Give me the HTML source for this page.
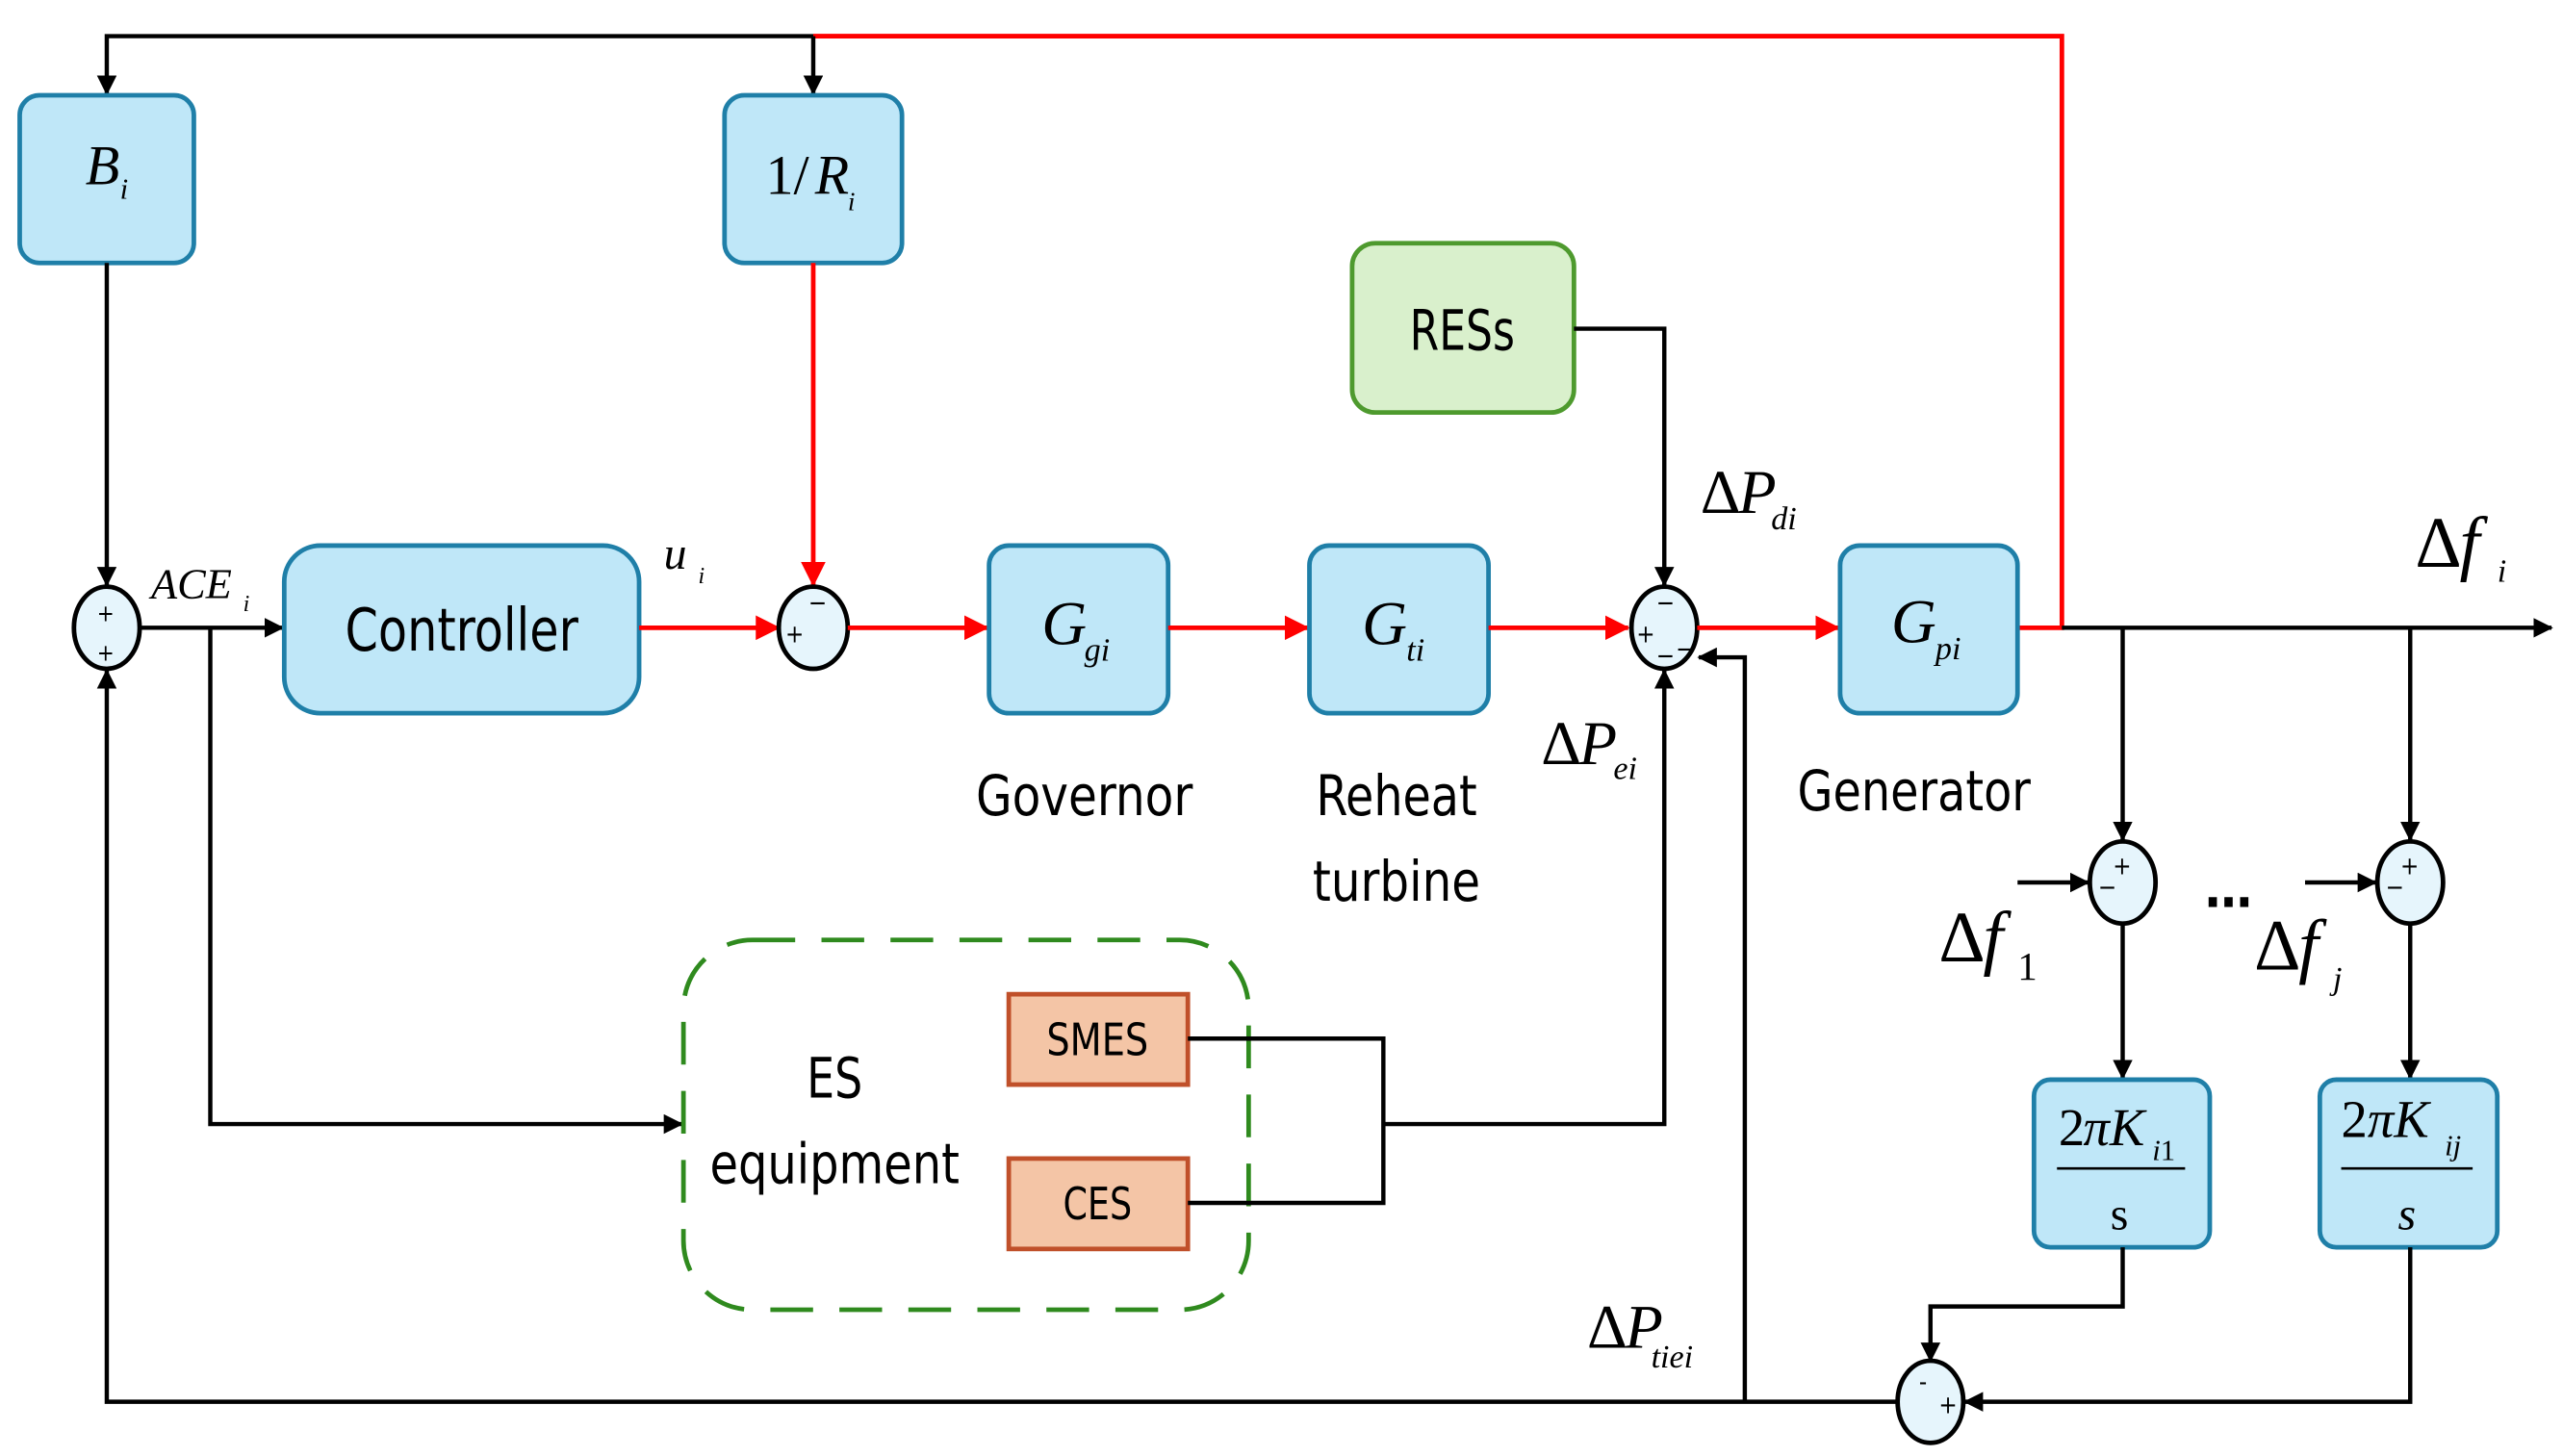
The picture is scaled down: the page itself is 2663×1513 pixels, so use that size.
<!DOCTYPE html>
<html><head><meta charset="utf-8"><style>
html,body{margin:0;padding:0;background:#fff;}
svg{display:block}
.m{font-family:"Liberation Serif",serif;font-style:italic;fill:#000}
.n{font-style:normal}
.s{font-family:"Liberation Sans Narrow","DejaVu Sans Condensed","Liberation Sans",sans-serif;fill:#000}
.blk{stroke:#1f7fa8;stroke-width:2.8;fill:#bfe7f8}
.sum{stroke:#000;stroke-width:2.8;fill:#e6f5fc}
.k{stroke:#000;stroke-width:2.6;fill:none}
.r{stroke:#f00;stroke-width:2.8;fill:none}
</style></head><body>
<svg width="2663" height="1513" viewBox="0 0 1560 886" preserveAspectRatio="none" xmlns="http://www.w3.org/2000/svg">
<defs>
<marker id="ak" markerWidth="12" markerHeight="12" refX="11" refY="6" orient="auto" markerUnits="userSpaceOnUse"><path d="M0,0 L12,6 L0,12 z" fill="#000"/></marker>
<marker id="ar" markerWidth="15" markerHeight="15" refX="14" refY="7.5" orient="auto" markerUnits="userSpaceOnUse"><path d="M0,0 L15,7.5 L0,15 z" fill="#f00"/></marker>
</defs>
<polyline class="k" points="495,22 65,22 65,57" marker-end="url(#ak)"/>
<polyline class="r" points="1228,382 1255,382 1255,22 495,22"/>
<line class="k" x1="495" y1="22" x2="495" y2="57" marker-end="url(#ak)"/>
<rect class="blk" x="12" y="58" width="106" height="102" rx="12"/>
<text class="m" x="52" y="112" font-size="34">B</text><text class="m" x="73" y="121" font-size="18">i</text>
<rect class="blk" x="441" y="58" width="108" height="102" rx="12"/>
<text class="m n" x="466" y="118" font-size="34">1/</text><text class="m" x="496" y="118" font-size="34">R</text><text class="m" x="516" y="128" font-size="16">i</text>
<line class="k" x1="65" y1="160" x2="65" y2="356" marker-end="url(#ak)"/>
<line class="r" x1="495" y1="160" x2="495" y2="356" marker-end="url(#ar)"/>
<ellipse class="sum" cx="65" cy="382" rx="20" ry="25"/>
<text class="s" x="59" y="378" font-size="14">+</text><text class="s" x="59" y="402" font-size="14">+</text>
<text class="m" x="92" y="364" font-size="26">ACE</text><text class="m" x="148" y="372" font-size="14">i</text>
<line class="k" x1="85" y1="382" x2="172" y2="382" stroke-width="3.5" marker-end="url(#ak)"/>
<rect class="blk" x="173" y="332" width="216" height="102" rx="22"/>
<text class="s" x="281" y="396" font-size="36" text-anchor="middle" textLength="142" lengthAdjust="spacingAndGlyphs">Controller</text>
<text class="m" x="404" y="346" font-size="28">u</text><text class="m" x="425" y="355" font-size="14">i</text>
<line class="r" x1="389" y1="382" x2="474" y2="382" stroke-width="3.2" marker-end="url(#ar)"/>
<ellipse class="sum" cx="495" cy="382" rx="21" ry="25"/>
<text class="s" x="478" y="391" font-size="15">+</text><text class="s" x="492" y="372" font-size="15">−</text>
<line class="r" x1="516" y1="382" x2="601" y2="382" stroke-width="3.2" marker-end="url(#ar)"/>
<rect class="blk" x="602" y="332" width="109" height="102" rx="12"/>
<text class="m" x="634" y="392" font-size="38">G</text><text class="m" x="660" y="402" font-size="20">gi</text>
<line class="r" x1="711" y1="382" x2="796" y2="382" stroke-width="3.2" marker-end="url(#ar)"/>
<rect class="blk" x="797" y="332" width="109" height="102" rx="12"/>
<text class="m" x="829" y="392" font-size="38">G</text><text class="m" x="856" y="402" font-size="20">ti</text>
<line class="r" x1="906" y1="382" x2="991" y2="382" stroke-width="3.2" marker-end="url(#ar)"/>
<ellipse class="sum" cx="1013" cy="382" rx="20" ry="25"/>
<text class="s" x="996" y="391" font-size="15">+</text><text class="s" x="1008" y="372" font-size="15">−</text><text class="s" x="1008" y="404" font-size="15">−</text><text class="s" x="1020" y="400" font-size="15">−</text>
<line class="r" x1="1033" y1="382" x2="1119" y2="382" stroke-width="3.2" marker-end="url(#ar)"/>
<rect class="blk" x="1120" y="332" width="108" height="102" rx="12"/>
<text class="m" x="1151" y="391" font-size="38">G</text><text class="m" x="1178" y="401" font-size="20">pi</text>
<rect x="823" y="148" width="135" height="103" rx="14" fill="#d9f0cc" stroke="#4e9a2e" stroke-width="2.8"/>
<text class="s" x="890" y="213" font-size="34" text-anchor="middle" textLength="64" lengthAdjust="spacingAndGlyphs">RESs</text>
<polyline class="k" points="958,200 1013,200 1013,356" marker-end="url(#ak)"/>
<text class="m n" x="1035" y="312" font-size="38">Δ</text><text class="m" x="1058" y="312" font-size="38">P</text><text class="m" x="1078" y="322" font-size="20">di</text>
<text class="s" x="660" y="496" font-size="34" text-anchor="middle" textLength="132" lengthAdjust="spacingAndGlyphs">Governor</text>
<text class="s" x="850" y="496" font-size="34" text-anchor="middle" textLength="98" lengthAdjust="spacingAndGlyphs">Reheat</text>
<text class="s" x="850" y="548" font-size="34" text-anchor="middle" textLength="102" lengthAdjust="spacingAndGlyphs">turbine</text>
<text class="s" x="1165" y="493" font-size="34" text-anchor="middle" textLength="142" lengthAdjust="spacingAndGlyphs">Generator</text>
<text class="m n" x="938" y="465" font-size="38">Δ</text><text class="m" x="961" y="465" font-size="38">P</text><text class="m" x="982" y="474" font-size="20">ei</text>
<line class="k" x1="1255" y1="382" x2="1553" y2="382" marker-end="url(#ak)"/>
<text class="m n" x="1470" y="345" font-size="44">Δ</text><text class="m" x="1497" y="345" font-size="44">f</text><text class="m" x="1520" y="354" font-size="20">i</text>
<line class="k" x1="1292" y1="382" x2="1292" y2="511" marker-end="url(#ak)"/>
<line class="k" x1="1467" y1="382" x2="1467" y2="511" marker-end="url(#ak)"/>
<ellipse class="sum" cx="1292" cy="537" rx="20" ry="25"/>
<ellipse class="sum" cx="1467" cy="537" rx="20" ry="25"/>
<text class="s" x="1286" y="532" font-size="15">+</text><text class="s" x="1277" y="545" font-size="15">−</text>
<text class="s" x="1461" y="532" font-size="15">+</text><text class="s" x="1452" y="545" font-size="15">−</text>
<line class="k" x1="1228" y1="537" x2="1271" y2="537" marker-end="url(#ak)"/>
<line class="k" x1="1403" y1="537" x2="1446" y2="537" marker-end="url(#ak)"/>
<text class="s" x="1342" y="552" font-size="32" font-weight="bold">…</text>
<text class="m n" x="1180" y="585" font-size="44">Δ</text><text class="m" x="1207" y="585" font-size="44">f</text><text class="m n" x="1228" y="596" font-size="24">1</text>
<text class="m n" x="1372" y="590" font-size="44">Δ</text><text class="m" x="1399" y="590" font-size="44">f</text><text class="m" x="1420" y="602" font-size="20">j</text>
<line class="k" x1="1292" y1="562" x2="1292" y2="656" marker-end="url(#ak)"/>
<line class="k" x1="1467" y1="562" x2="1467" y2="656" marker-end="url(#ak)"/>
<rect class="blk" x="1238" y="657" width="107" height="102" rx="10" stroke="#000"/>
<rect class="blk" x="1412" y="657" width="108" height="102" rx="10" stroke="#000"/>
<text class="m n" x="1253" y="697" font-size="32">2</text><text class="m" x="1268" y="697" font-size="32">πK</text><text class="m" x="1310" y="706" font-size="18">i</text><text class="m n" x="1315" y="706" font-size="18">1</text>
<line x1="1252" y1="711" x2="1330" y2="711" stroke="#000" stroke-width="1.5"/>
<text class="m n" x="1290" y="748" font-size="28" text-anchor="middle">s</text>
<text class="m n" x="1425" y="692" font-size="32">2</text><text class="m" x="1441" y="692" font-size="32">πK</text><text class="m" x="1488" y="703" font-size="18">ij</text>
<line x1="1425" y1="711" x2="1505" y2="711" stroke="#000" stroke-width="1.5"/>
<text class="m" x="1465" y="748" font-size="28" text-anchor="middle">s</text>
<polyline class="k" points="1292,759 1292,795 1175,795 1175,828" marker-end="url(#ak)"/>
<polyline class="k" points="1467,759 1467,853 1196,853" marker-end="url(#ak)"/>
<ellipse class="sum" cx="1175" cy="853" rx="20" ry="25"/>
<text class="s" x="1168" y="846" font-size="15">-</text><text class="s" x="1180" y="860" font-size="15">+</text>
<text class="m n" x="966" y="820" font-size="38">Δ</text><text class="m" x="989" y="820" font-size="38">P</text><text class="m" x="1005" y="832" font-size="20">tiei</text>
<polyline class="k" points="1155,853 65,853 65,408" marker-end="url(#ak)"/>
<polyline class="k" points="1062,853 1062,400 1034,400" marker-end="url(#ak)"/>
<polyline class="k" points="128,382 128,684 415,684" marker-end="url(#ak)"/>
<rect x="416" y="572" width="344" height="225" rx="42" fill="none" stroke="#2f8a1e" stroke-width="2.8" stroke-dasharray="26,16"/>
<text class="s" x="508" y="668" font-size="34" text-anchor="middle" textLength="34" lengthAdjust="spacingAndGlyphs">ES</text>
<text class="s" x="508" y="720" font-size="34" text-anchor="middle" textLength="152" lengthAdjust="spacingAndGlyphs">equipment</text>
<rect x="614" y="605" width="109" height="55" fill="#f4c5a6" stroke="#c0502a" stroke-width="2.8"/>
<text class="s" x="668" y="642" font-size="27" text-anchor="middle" textLength="62" lengthAdjust="spacingAndGlyphs">SMES</text>
<rect x="614" y="705" width="109" height="55" fill="#f4c5a6" stroke="#c0502a" stroke-width="2.8"/>
<text class="s" x="668" y="742" font-size="27" text-anchor="middle" textLength="42" lengthAdjust="spacingAndGlyphs">CES</text>
<polyline class="k" points="723,632 842,632 842,732 723,732"/>
<polyline class="k" points="842,684 1013,684 1013,408" marker-end="url(#ak)"/>
</svg>
</body></html>
